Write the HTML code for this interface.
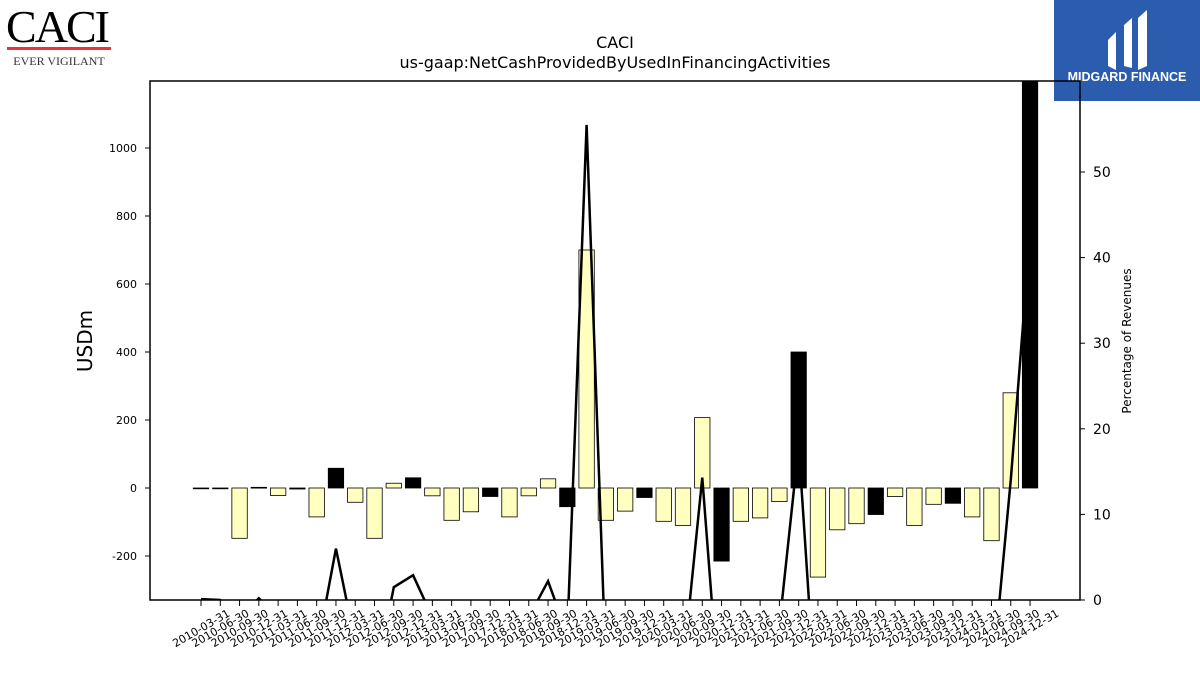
<!DOCTYPE html>
<html><head><meta charset="utf-8"><style>
body{margin:0;background:#fff;width:1200px;height:675px;overflow:hidden;font-family:"Liberation Sans",sans-serif;}
svg{display:block;}
svg text{font-family:"DejaVu Sans","Liberation Sans",sans-serif;}
</style></head><body>
<svg id="chart" width="1200" height="675" xmlns="http://www.w3.org/2000/svg">
<g>
<text x="57" y="42" text-anchor="middle" style="font-family:'Liberation Serif',serif" font-size="46" letter-spacing="-2">CACI</text>
<rect x="7" y="47" width="104" height="3" fill="#e8323c"/>
<text x="59" y="65" text-anchor="middle" style="font-family:'Liberation Serif',serif" font-size="12" fill="#333">EVER VIGILANT</text>
</g>
<g>
<rect x="1054" y="0" width="146" height="101" fill="#2b5cae"/>
<path d="M1108 40 L1116 32 L1116 70 L1108 66 Z M1124 25 L1132 18 L1132 68 L1124 66 Z M1138 18 L1147 10 L1147 66 L1138 70 Z" fill="#fff"/>
<text x="1127" y="81" text-anchor="middle" font-size="12.5" font-weight="bold" fill="#fff" style="font-family:'Liberation Sans',sans-serif">MIDGARD FINANCE</text>
</g>
<text x="615" y="48" text-anchor="middle" font-size="16">CACI</text>
<text x="615" y="68" text-anchor="middle" font-size="16">us-gaap:NetCashProvidedByUsedInFinancingActivities</text>
<defs><clipPath id="pc"><rect x="150" y="81" width="930" height="519"/></clipPath></defs>
<g id="bars" clip-path="url(#pc)"></g>
<g id="line" clip-path="url(#pc)"></g>
<rect x="150" y="81" width="930" height="519" fill="none" stroke="#000" stroke-width="1.5"/>
<g id="axes"></g>
<text transform="translate(92,341) rotate(-90)" text-anchor="middle" font-size="20">USDm</text>
<text transform="translate(1131,341) rotate(-90)" text-anchor="middle" font-size="12">Percentage of Revenues</text>
</svg>
<script>
const categories=["2010-03-31","2010-06-30","2010-09-30","2010-12-31","2011-03-31","2011-06-30","2011-09-30","2011-12-31","2012-03-31","2012-06-30","2012-09-30","2012-12-31","2013-03-31","2013-06-30","2017-09-30","2017-12-31","2018-03-31","2018-06-30","2018-09-30","2018-12-31","2019-03-31","2019-06-30","2019-09-30","2019-12-31","2020-03-31","2020-06-30","2020-09-30","2020-12-31","2021-03-31","2021-06-30","2021-09-30","2021-12-31","2022-03-31","2022-06-30","2022-09-30","2022-12-31","2023-03-31","2023-06-30","2023-09-30","2023-12-31","2024-03-31","2024-06-30","2024-09-30","2024-12-31"];
const values=[-1,-2,-148,2,-22,-3,-85,58,-42,-148,14,30,-23,-95,-70,-25,-85,-23,27,-55,700,-95,-68,-28,-98,-110,207,-215,-98,-88,-40,400,-262,-123,-105,-78,-25,-110,-48,-45,-85,-155,280,1250];
const dark=[0,0,0,1,0,1,0,1,0,0,0,1,0,0,0,1,0,0,0,1,0,0,0,1,0,0,0,1,0,0,0,1,0,0,0,1,0,0,0,1,0,0,0,1];
const pct=[0.1,0,-2,0.2,-2,-1,-6,6,-5,-10,1.5,2.9,-2,-6,-4,-2,-6,-2,2.2,-4,55.5,-8,-6,-2,-7,-8,14.3,-15,-6,-5,-3,18.1,-16,-8,-7,-5,-2,-7,-3,-3,-5,-10,14,42.6];
const leftTicks=[-200,0,200,400,600,800,1000];
const rightTicks=[0,10,20,30,40,50];
const NS="http://www.w3.org/2000/svg";
const y=v=>488-v*0.34;
const y2=v=>600-v*8.56;
const x=i=>201+i*19.28;
function mk(t,a,p){const e=document.createElementNS(NS,t);for(const k in a)e.setAttribute(k,a[k]);p.appendChild(e);return e;}
const bars=document.getElementById('bars'),axes=document.getElementById('axes'),lineG=document.getElementById('line');
values.forEach((v,i)=>{const r=mk('rect',{x:x(i)-7.7,y:Math.min(y(v),y(0)),width:15.4,height:Math.max(Math.abs(y(v)-y(0)),0.8),fill:dark[i]?'#000':'#ffffc0',stroke:'#000','stroke-width':0.8},bars);

});
const pl=mk('polyline',{points:pct.map((p,i)=>x(i)+','+y2(p)).join(' '),fill:'none',stroke:'#000','stroke-width':2.5},lineG);


leftTicks.forEach(t=>{mk('line',{x1:145,x2:150,y1:y(t),y2:y(t),stroke:'#000'},axes);
const tx=mk('text',{x:137,y:y(t)+4,'text-anchor':'end','font-size':11},axes);tx.textContent=t;

});
rightTicks.forEach(t=>{mk('line',{x1:1080,x2:1085,y1:y2(t),y2:y2(t),stroke:'#000'},axes);
const tx=mk('text',{x:1093,y:y2(t)+5,'font-size':14},axes);tx.textContent=t;

});
categories.forEach((c,i)=>{mk('line',{x1:x(i),x2:x(i),y1:600,y2:606,stroke:'#000'},axes);
const cx=x(i),cy=628;
const tx=mk('text',{x:cx,y:cy+4,'text-anchor':'middle','font-size':11,transform:'rotate(-30 '+cx+' '+cy+')'},axes);tx.textContent=c;

});
</script>
</body></html>
